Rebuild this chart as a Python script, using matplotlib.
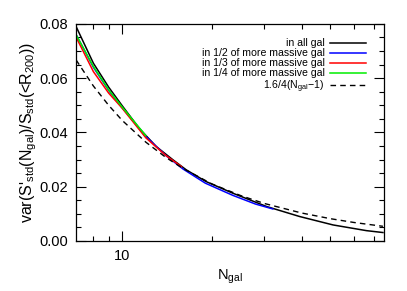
import numpy as np
import matplotlib
matplotlib.use('Agg')
import matplotlib.pyplot as plt
from matplotlib.ticker import FixedLocator, NullFormatter, MultipleLocator, FormatStrFormatter

# values
n_all = [7, 8, 9, 10, 11.4, 13, 14.8, 16.4, 19.1, 23.5, 30.5, 39.4, 51, 66, 75]
v_all = [0.0790, 0.0655, 0.0567, 0.0498, 0.0415, 0.0348, 0.0299, 0.0262, 0.0219,
         0.0176, 0.0127, 0.0090, 0.0059, 0.0038, 0.0031]

n_half = [7, 8, 9, 10, 12, 14, 16, 19, 23.5, 28, 32]
v_half = [0.0760, 0.0640, 0.0555, 0.0490, 0.0385, 0.0315, 0.0265, 0.0213, 0.0168, 0.0136, 0.0118]

n_third = [7, 8, 9, 10, 12, 14, 15.8]
v_third = [0.0751, 0.0624, 0.0545, 0.0489, 0.0380, 0.0315, 0.0274]

n_quarter = [7, 8, 9, 10, 12]
v_quarter = [0.0760, 0.0643, 0.0557, 0.0493, 0.0388]

n_fit = [7, 8, 9, 10, 12, 14, 16, 20, 25, 30, 40, 50, 60, 75]
v_fit = [0.0667, 0.0571, 0.0500, 0.0444, 0.0364, 0.0308, 0.0267, 0.0210,
         0.0167, 0.0138, 0.0103, 0.0082, 0.0068, 0.0054]

labels = ['in all gal', 'in 1/2 of more massive gal', 'in 1/3 of more massive gal',
          'in 1/4 of more massive gal', r'1.6/4(N$_{\rm gal}$$-$1)']

plt.rcParams['font.family'] = ['Liberation Sans', 'DejaVu Sans']
plt.rcParams['mathtext.fontset'] = 'custom'
plt.rcParams['mathtext.rm'] = 'Liberation Sans'
plt.rcParams['mathtext.it'] = 'Liberation Sans'

fig = plt.figure(figsize=(4.07, 2.91), dpi=100)
ax = fig.add_axes([0.187, 0.172, 0.756, 0.746])

ax.plot(n_all, v_all, color='black', lw=1.1, label=labels[0])
ax.plot(n_half, v_half, color='#0000ff', lw=1.1, label=labels[1])
ax.plot(n_third, v_third, color='#ff0000', lw=1.1, label=labels[2])
ax.plot(n_quarter, v_quarter, color='#00ee00', lw=1.1, label=labels[3])
ax.plot(n_fit, v_fit, color='black', lw=1.0, ls=(0, (4, 3)), label=labels[4])

ax.set_xscale('log')
ax.set_xlim(7, 75.5)
ax.set_ylim(0, 0.08)

ax.xaxis.set_major_locator(FixedLocator([10]))
ax.xaxis.set_minor_locator(FixedLocator([8, 9, 20, 30, 40, 50, 60, 70]))
ax.xaxis.set_minor_formatter(NullFormatter())
ax.xaxis.set_major_formatter(FormatStrFormatter('%d'))
ax.yaxis.set_major_locator(MultipleLocator(0.02))
ax.yaxis.set_minor_locator(MultipleLocator(0.005))
ax.yaxis.set_major_formatter(FormatStrFormatter('%.2f'))

ax.tick_params(which='both', direction='in', top=True, right=True, labelsize=10.5, width=0.8)
ax.tick_params(which='major', length=7, pad=6)
ax.tick_params(which='minor', length=3.5)
for s in ax.spines.values():
    s.set_linewidth(0.9)

ax.set_xlabel(r'N$_{\rm gal}$', fontsize=10.5, labelpad=3)
ax.set_ylabel(r"var(S'$_{\rm std}$(N$_{\rm gal}$)/S$_{\rm std}$(<R$_{200}$))", fontsize=11.5, labelpad=0)

ax.legend(loc='upper right', frameon=False, markerfirst=False, fontsize=7.6,
          handlelength=3.4, labelspacing=0.0, handletextpad=0.5,
          bbox_to_anchor=(0.955, 0.953), borderaxespad=0)

fig.savefig('out.png', dpi=100)
